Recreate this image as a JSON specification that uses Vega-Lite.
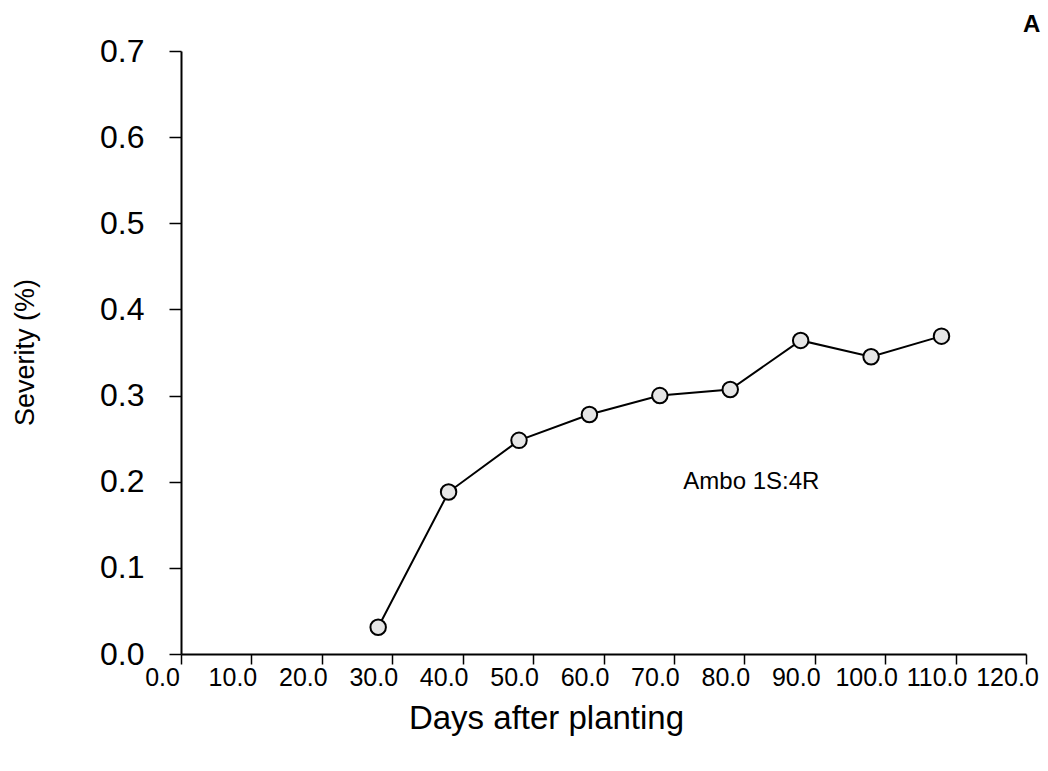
{
  "$schema": "https://vega.github.io/schema/vega-lite/v6.json",
  "width": 845,
  "height": 603,
  "autosize": {"type": "none"},
  "padding": {"left": 181, "top": 51, "right": 22, "bottom": 117},
  "background": "white",
  "config": {
    "view": {"stroke": null},
    "axis": {
      "domainColor": "black",
      "domainWidth": 2,
      "tickColor": "black",
      "tickWidth": 1.5,
      "grid": false,
      "labelColor": "black",
      "titleColor": "black",
      "labelFont": "Liberation Sans",
      "titleFont": "Liberation Sans",
      "titleFontWeight": "normal"
    }
  },
  "datasets": {
    "severity": [
      {"day": 28, "severity": 0.031},
      {"day": 38, "severity": 0.188},
      {"day": 48, "severity": 0.248},
      {"day": 58, "severity": 0.278},
      {"day": 68, "severity": 0.300},
      {"day": 78, "severity": 0.307},
      {"day": 88, "severity": 0.364},
      {"day": 98, "severity": 0.345},
      {"day": 108, "severity": 0.369}
    ],
    "notes": [
      {"day": 81, "severity": 0.2, "label": "Ambo 1S:4R"}
    ],
    "panel": [
      {"day": 120.8, "severity": 0.73, "label": "A"}
    ]
  },
  "encoding": {
    "x": {
      "field": "day",
      "type": "quantitative",
      "scale": {"domain": [0, 120], "nice": false, "zero": true},
      "axis": {
        "title": "Days after planting",
        "values": [0, 10, 20, 30, 40, 50, 60, 70, 80, 90, 100, 110, 120],
        "format": ".1f",
        "tickSize": 10,
        "labelFontSize": 25,
        "labelPadding": 1,
        "labelOffset": -19,
        "labelOverlap": false,
        "labelFlush": false,
        "titleFontSize": 33,
        "titleX": 365,
        "titleY": 64,
        "titleBaseline": "middle",
        "titleAnchor": null
      }
    },
    "y": {
      "field": "severity",
      "type": "quantitative",
      "scale": {"domain": [0, 0.7], "nice": false},
      "axis": {
        "title": "Severity (%)",
        "values": [0, 0.1, 0.2, 0.3, 0.4, 0.5, 0.6, 0.7],
        "format": ".1f",
        "tickSize": 12,
        "labelFontSize": 32,
        "labelPadding": 25,
        "labelOverlap": false,
        "labelFlush": false,
        "titleFontSize": 27,
        "titleX": -156,
        "titleY": 301,
        "titleBaseline": "middle",
        "titleAnchor": null
      }
    }
  },
  "layer": [
    {
      "data": {"name": "severity"},
      "mark": {"type": "line", "color": "black", "strokeWidth": 2}
    },
    {
      "data": {"name": "severity"},
      "mark": {
        "type": "point",
        "shape": "circle",
        "size": 240,
        "filled": true,
        "fill": "#e6e6e6",
        "stroke": "black",
        "strokeWidth": 2,
        "opacity": 1
      }
    },
    {
      "data": {"name": "notes"},
      "mark": {
        "type": "text",
        "font": "Liberation Sans",
        "fontSize": 24,
        "color": "black",
        "align": "center",
        "baseline": "middle"
      },
      "encoding": {"text": {"field": "label"}}
    },
    {
      "data": {"name": "panel"},
      "mark": {
        "type": "text",
        "font": "Liberation Sans",
        "fontSize": 24,
        "fontWeight": "bold",
        "color": "black",
        "align": "center",
        "baseline": "middle"
      },
      "encoding": {"text": {"field": "label"}}
    }
  ]
}
